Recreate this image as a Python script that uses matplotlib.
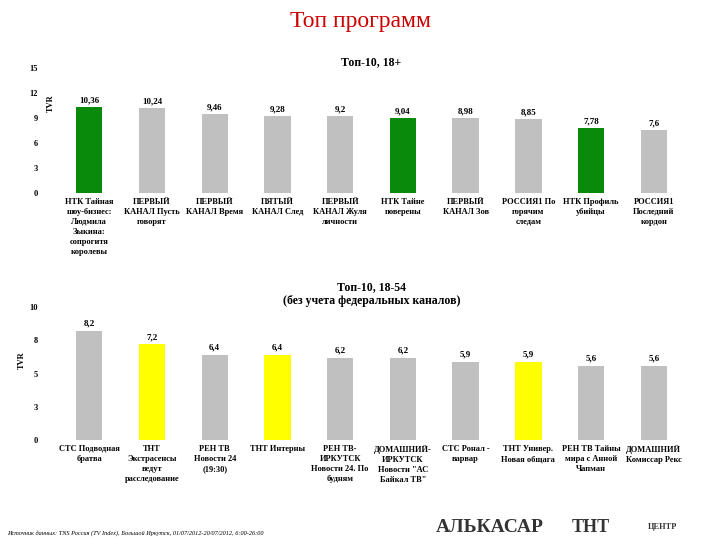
import matplotlib.pyplot as plt
import numpy as np

plt.rcParams['font.family'] = ['Liberation Serif', 'DejaVu Serif']

top_labels = ['НТК Тайная\nшоу-бизнес:\nЛюдмила\nЗыкина:\nсопрогитя\nкоролевы',
              'ПЕРВЫЙ\nКАНАЛ Пусть\nговорят', 'ПЕРВЫЙ\nКАНАЛ Время', 'ПЯТЫЙ\nКАНАЛ След',
              'ПЕРВЫЙ\nКАНАЛ Жуля\nличности', 'НТК Тайне\nповерены',
              'ПЕРВЫЙ\nКАНАЛ Зов', 'РОССИЯ1 По\nгорячим\nследам', 'НТК Профиль\nубийцы',
              'РОССИЯ1\nПоследний\nкордон']
top_values = [10.36, 10.24, 9.46, 9.28, 9.2, 9.04, 8.98, 8.85, 7.78, 7.6]
top_value_labels = ['10,36', '10,24', '9,46', '9,28', '9,2', '9,04', '8,98', '8,85', '7,78', '7,6']
top_colors = ['#0a8a0a', '#c0c0c0', '#c0c0c0', '#c0c0c0', '#c0c0c0', '#0a8a0a',
              '#c0c0c0', '#c0c0c0', '#0a8a0a', '#c0c0c0']

bot_labels = ['СТС Подводная\nбратва', 'ТНТ\nЭкстрасенсы\nведут\nрасследование',
              'РЕН ТВ\nНовости 24\n(19:30)', 'ТНТ Интерны', 'РЕН ТВ-\nИРКУТСК\nНовости 24. По\nбудням',
              'ДОМАШНИЙ-\nИРКУТСК\nНовости "АС\nБайкал ТВ"', 'СТС Ронал -\nварвар',
              'ТНТ Универ.\nНовая общага', 'РЕН ТВ Тайны\nмира с Анной\nЧапман',
              'ДОМАШНИЙ\nКомиссар Рекс']
bot_values = [8.2, 7.2, 6.4, 6.4, 6.2, 6.2, 5.9, 5.9, 5.6, 5.6]
bot_value_labels = ['8,2', '7,2', '6,4', '6,4', '6,2', '6,2', '5,9', '5,9', '5,6', '5,6']
bot_colors = ['#c0c0c0', '#ffff00', '#c0c0c0', '#ffff00', '#c0c0c0', '#c0c0c0',
              '#c0c0c0', '#ffff00', '#c0c0c0', '#c0c0c0']

fig = plt.figure(figsize=(7.2, 5.4), dpi=100)
fig.text(0.5, 0.96, 'Топ программ', ha='center', va='center', fontsize=17, color='#cc0000')


def draw(ax, labels, values, vlabels, colors, ymax, title, ypad):
    x = np.arange(len(values))
    ax.bar(x, values, width=0.42, color=colors)
    for xi, v, t in zip(x, values, vlabels):
        ax.text(xi, v + ypad, t, ha='center', va='bottom', fontsize=6.5, fontweight='bold')
    ax.set_xlim(-0.55, len(values) - 0.45)
    ax.set_ylim(0, ymax)
    ax.set_xticks(x)
    ax.set_xticklabels(labels, fontsize=6, fontweight='bold', linespacing=1.35)
    ax.tick_params(length=0, labelsize=6)
    for s in ax.spines.values():
        s.set_visible(False)
    ax.set_ylabel('TVR', fontsize=6, fontweight='bold')
    ax.set_title(title, fontsize=8.5, fontweight='bold', pad=2)


ax1 = fig.add_axes([0.076, 0.643, 0.88, 0.231])
draw(ax1, top_labels, top_values, top_value_labels, top_colors, 15, 'Топ-10, 18+', 0.3)
ax1.set_yticks([0, 3, 6, 9, 12, 15])
ax1.set_yticklabels(['0', '3', '6', '9', '12', '15'], fontweight='bold')
ax1.yaxis.set_label_coords(0.0, 0.72)
ax1.tick_params(axis='y', pad=12)

ax2 = fig.add_axes([0.076, 0.185, 0.88, 0.246])
draw(ax2, bot_labels, bot_values, bot_value_labels, bot_colors, 10,
     'Топ-10, 18-54\n(без учета федеральных каналов)', 0.25)
ax2.set_yticks([0, 2.5, 5, 7.5, 10])
ax2.set_yticklabels(['0', '3', '5', '8', '10'], fontweight='bold')
ax2.yaxis.set_label_coords(-0.045, 0.6)
ax2.tick_params(axis='y', pad=12)

fig.text(0.01, 0.01, 'Источник данных: TNS Россия (TV Index), Большой Иркутск, 01/07/2012-20/07/2012, 6:00-26:00',
         fontsize=4.5, style='italic')
fig.text(0.68, 0.015, 'АЛЬКАСАР', fontsize=14, fontweight='bold', color='#333333', ha='center')
fig.text(0.82, 0.015, 'ТНТ', fontsize=13, fontweight='bold', color='#333333', ha='center')
fig.text(0.92, 0.02, 'ЦЕНТР', fontsize=6, fontweight='bold', color='#333333', ha='center')

fig.savefig('out.png', dpi=100)
